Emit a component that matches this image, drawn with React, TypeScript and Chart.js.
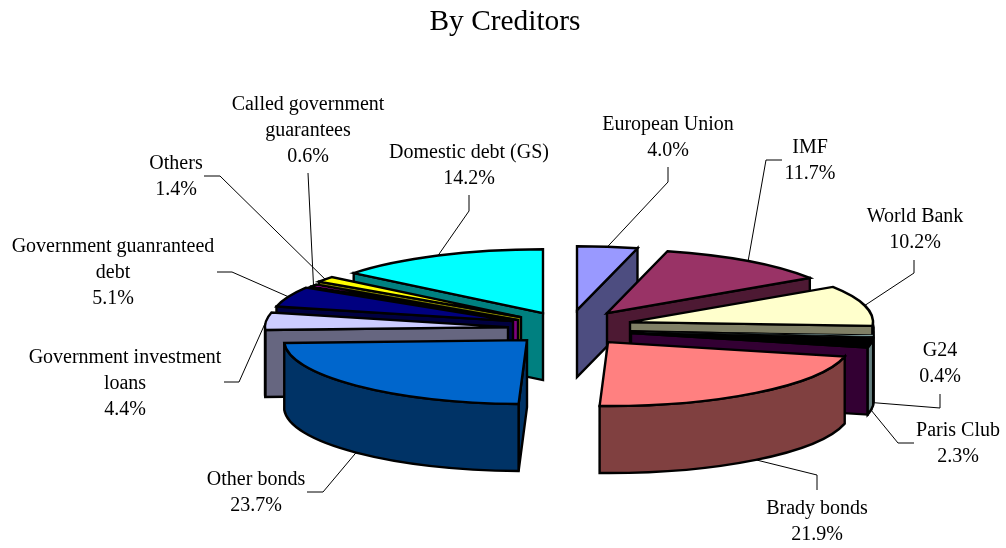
import React, { useEffect, useRef } from "react";
import { Chart, registerables } from "chart.js";

Chart.register(...registerables);

const chartTitle = "By Creditors";
const creditors = [
  "European Union", "IMF", "World Bank", "G24", "Paris Club", "Brady bonds", "Other bonds",
  "Government investment loans", "Government guanranteed debt",
  "Called government guarantees", "Others", "Domestic debt (GS)",
];
const shares = [4.0, 11.7, 10.2, 0.4, 2.3, 21.9, 23.7, 4.4, 5.1, 0.6, 1.4, 14.2];

const topColors = ["#9999FF", "#993366", "#FFFFCC", "#CCFFFF", "#000000", "#FF8080", "#0066CC", "#CCCCFF", "#000080", "#FF00FF", "#FFFF00", "#00FFFF"];
const sideColors = ["#4D4D80", "#4D1933", "#808066", "#668080", "#330033", "#804040", "#003366", "#666680", "#000040", "#800080", "#808000", "#008080"];
const rimColors = ["#4D4D80", "#4D1933", "#808066", "#668080", "#668080", "#804040", "#003366", "#666680", "#000040", "#800080", "#808000", "#008080"];
const topOutlines = [2.4, 2.4, 2.4, 1, 2.4, 2.4, 2.4, 2.4, 2.4, 2.4, 2.4, 2.4];

// Per-slice explosion, in pixels, away from the pie centre.
const explodeX = [16, 46, 69, 70, 70, 47, -34, -53, -48, -43, -40, -18];
const explodeY = [-12, -9, 0, 9, 11, 20, 18, 5, -1, -2, -5, -9];

// Back slices are painted first so the nearer ones overlap them.
const paintOrder = [0, 1, 2, 3, 4, 5, 11, 10, 9, 8, 7, 6];

// Wrapped label text and its placement: centre x, middle of first line.
const labelLines = [
  ["European Union"], ["IMF"], ["World Bank"], ["G24"], ["Paris Club"], ["Brady bonds"], ["Other bonds"],
  ["Government investment", "loans"], ["Government guanranteed", "debt"],
  ["Called government", "guarantees"], ["Others"], ["Domestic debt (GS)"],
];
const labelX = [668, 810, 915, 940, 958, 817, 256, 125, 113, 308, 176, 469];
const labelY = [124, 147, 216, 350, 430, 508, 479, 357, 246, 104, 163, 152];

// Leader lines: points nearest the label first, then the slice rim they end on.
const leaderElbows: number[][][] = [
  [[668, 167], [668, 182]],
  [[782, 160], [766, 160]],
  [[914, 260], [914, 273]],
  [[940, 394], [940, 408]],
  [[914, 443], [898, 443]],
  [[817, 490], [817, 475]],
  [[307, 492], [323, 492]],
  [[224, 382], [239, 382]],
  [[217, 272], [232, 272]],
  [[308, 173]],
  [[204, 176], [220, 176]],
  [[469, 195], [469, 211]],
];

const PIE_SHIFT_X = 56;
const SQUASH = 0.263;
const DEPTH = 67;
const SERIF = '"Liberation Serif", "Times New Roman", serif';

function sliceGeometry(arc: any, i: number) {
  return {
    cx: arc.x + PIE_SHIFT_X + explodeX[i],
    cy: arc.y + explodeY[i],
    r: arc.outerRadius,
    a: arc.startAngle,
    b: arc.endAngle,
  };
}

function paintSlice(ctx: CanvasRenderingContext2D, arc: any, i: number) {
  const { cx, cy, r, a, b } = sliceGeometry(arc, i);
  const ry = r * SQUASH;
  ctx.lineWidth = 2.4;
  ctx.lineJoin = "miter";
  ctx.strokeStyle = "#000";
  ctx.fillStyle = sideColors[i];

  const cutFace = (t: number) => {
    const rx0 = cx + r * Math.cos(t);
    const ry0 = cy + ry * Math.sin(t);
    ctx.beginPath();
    ctx.moveTo(cx, cy);
    ctx.lineTo(rx0, ry0);
    ctx.lineTo(rx0, ry0 + DEPTH);
    ctx.lineTo(cx, cy + DEPTH);
    ctx.closePath();
    ctx.fill();
    ctx.stroke();
  };
  if (Math.cos(a) < 0) cutFace(a);
  if (Math.cos(b) > 0) cutFace(b);

  // Outer wall: only the part of the rim on the near half of the ellipse.
  const t0 = Math.max(a, 0);
  const t1 = Math.min(b, Math.PI);
  if (t1 > t0) {
    ctx.fillStyle = rimColors[i];
    ctx.beginPath();
    ctx.ellipse(cx, cy, r, ry, 0, t0, t1);
    ctx.ellipse(cx, cy + DEPTH, r, ry, 0, t1, t0, true);
    ctx.closePath();
    ctx.fill();
    ctx.stroke();
  }

  // Top face: the library's arc element, flattened onto the ellipse.
  ctx.save();
  ctx.translate(cx, cy);
  ctx.scale(1, SQUASH);
  ctx.translate(-arc.x, -arc.y);
  arc.draw(ctx);
  ctx.restore();

  ctx.lineWidth = topOutlines[i];
  ctx.beginPath();
  ctx.moveTo(cx, cy);
  ctx.ellipse(cx, cy, r, ry, 0, a, b);
  ctx.closePath();
  ctx.stroke();
}

function rimAnchor(arc: any, i: number) {
  const { cx, cy, r, a, b } = sliceGeometry(arc, i);
  const mid = (a + b) / 2;
  const x = cx + r * Math.cos(mid);
  const y = cy + r * SQUASH * Math.sin(mid);
  return [x, Math.sin(mid) > 0 ? y + DEPTH : y];
}

const exploded3dPie = {
  id: "exploded3dPie",
  beforeDatasetsDraw(chart: any) {
    const arcs = chart.getDatasetMeta(0).data;
    const ctx: CanvasRenderingContext2D = chart.ctx;
    ctx.save();
    paintOrder.forEach((i) => paintSlice(ctx, arcs[i], i));
    ctx.restore();
    return false;
  },
  afterDraw(chart: any) {
    const arcs = chart.getDatasetMeta(0).data;
    const ctx: CanvasRenderingContext2D = chart.ctx;
    ctx.save();
    ctx.strokeStyle = "#000";
    ctx.lineWidth = 1;
    leaderElbows.forEach((pts, i) => {
      const end = rimAnchor(arcs[i], i);
      ctx.beginPath();
      pts.forEach(([x, y], k) => (k ? ctx.lineTo(x, y) : ctx.moveTo(x, y)));
      ctx.lineTo(end[0], end[1]);
      ctx.stroke();
    });
    ctx.fillStyle = "#000";
    ctx.font = `20px ${SERIF}`;
    ctx.textAlign = "center";
    ctx.textBaseline = "middle";
    creditors.forEach((_, i) => {
      const lines = [...labelLines[i], `${shares[i].toFixed(1)}%`];
      lines.forEach((text, k) => ctx.fillText(text, labelX[i], labelY[i] + 1 + k * 25.7));
    });
    ctx.restore();
  },
};

export default function App() {
  const ref = useRef<HTMLCanvasElement>(null);
  useEffect(() => {
    const chart = new Chart(ref.current!, {
      type: "pie",
      data: {
        labels: creditors,
        datasets: [{ data: shares, backgroundColor: topColors, borderWidth: 0 }],
      },
      options: {
        animation: false,
        responsive: false,
        radius: 243,
        layout: { padding: { left: 4 } },
        events: [],
        plugins: {
          legend: { display: false },
          tooltip: { enabled: false },
          title: {
            display: true,
            text: chartTitle,
            color: "#000",
            font: { family: SERIF, size: 29.4, weight: "normal" },
            padding: { top: 5, bottom: 56 },
          },
        },
      },
      plugins: [exploded3dPie],
    } as any);
    return () => chart.destroy();
  }, []);
  return (
    <div style={{ position: "fixed", left: 0, top: 0, width: 1006, height: 548, background: "#fff" }}>
      <canvas ref={ref} width={1006} height={548} style={{ display: "block" }} />
    </div>
  );
}
